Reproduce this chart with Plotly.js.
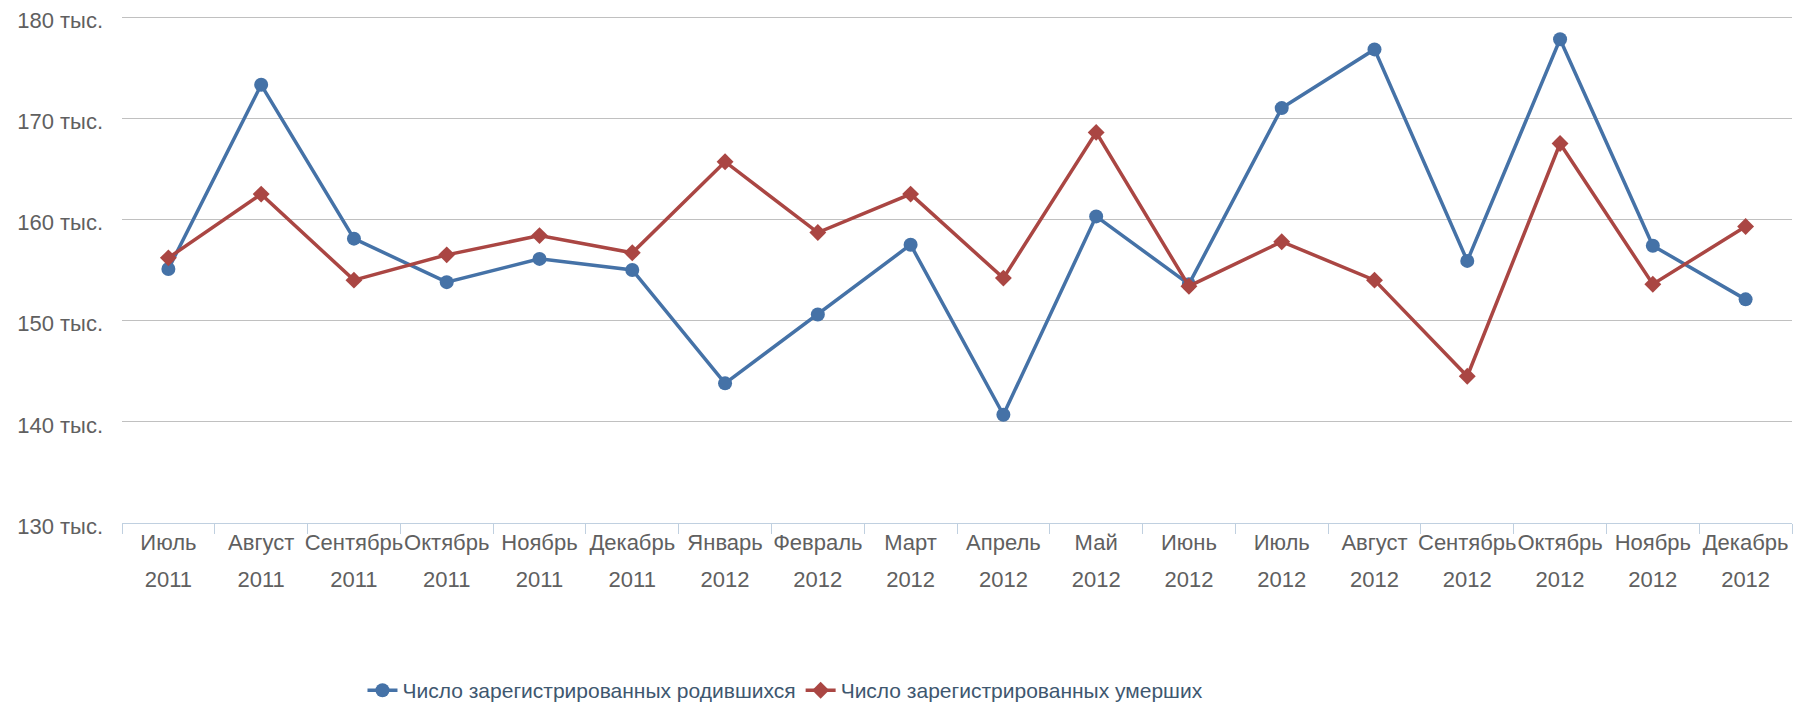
<!DOCTYPE html>
<html>
<head>
<meta charset="utf-8">
<script src="https://cdn.plot.ly/plotly-3.0.1.min.js"></script>
<style>
  html, body { margin: 0; padding: 0; background: #ffffff; }
  #chart { width: 1812px; height: 709px; }
</style>
</head>
<body>
<div id="chart"></div>
<script>
// Categories (months) and years
const months = ["Июль", "Август", "Сентябрь", "Октябрь", "Ноябрь", "Декабрь",
                "Январь", "Февраль", "Март", "Апрель", "Май", "Июнь",
                "Июль", "Август", "Сентябрь", "Октябрь", "Ноябрь", "Декабрь"];
const years = ["2011", "2011", "2011", "2011", "2011", "2011",
               "2012", "2012", "2012", "2012", "2012", "2012",
               "2012", "2012", "2012", "2012", "2012", "2012"];

// Series values, thousands of people
const births = [155.1, 173.3, 158.1, 153.8, 156.1, 155.0,
                143.8, 150.6, 157.5, 140.7, 160.3, 153.6,
                171.0, 176.8, 155.9, 177.8, 157.4, 152.1];
const deaths = [156.2, 162.5, 154.0, 156.5, 158.4, 156.7,
                165.7, 158.7, 162.5, 154.2, 168.6, 153.4,
                157.8, 154.0, 144.5, 167.5, 153.6, 159.3];

// Y axis ticks
const yTickVals = [130, 140, 150, 160, 170, 180];
const yTickText = ["130 тыс.", "140 тыс.", "150 тыс.", "160 тыс.", "170 тыс.", "180 тыс."];

const seriesNames = ["Число зарегистрированных родившихся", "Число зарегистрированных умерших"];

const cats = months.map((m, i) => m + " " + years[i]);
const idx = months.map((m, i) => i);

const FONT = "'Liberation Sans', Arial, sans-serif";
const AXIS_SIZE = 22;

const traces = [
  {
    type: "scatter", mode: "lines+markers",
    name: seriesNames[0],
    x: cats, y: births,
    line: { color: "#4572A7", width: 3.5 },
    marker: { symbol: "circle", size: 14, color: "#4572A7" },
    hoverinfo: "skip"
  },
  {
    type: "scatter", mode: "lines+markers",
    name: seriesNames[1],
    x: cats, y: deaths,
    line: { color: "#AA4643", width: 3.5 },
    marker: { symbol: "diamond", size: 13, color: "#AA4643" },
    hoverinfo: "skip"
  },
  // invisible helper so the year-label axis is drawn
  {
    type: "scatter", mode: "lines",
    x: idx, y: births, xaxis: "x2", yaxis: "y",
    line: { width: 0, color: "rgba(0,0,0,0)" },
    opacity: 0, showlegend: false, hoverinfo: "skip"
  }
];

const layout = {
  width: 1812, height: 709,
  margin: { l: 122, r: 20, t: 15, b: 186, pad: 0, autoexpand: false },
  paper_bgcolor: "#ffffff", plot_bgcolor: "#ffffff",
  font: { family: FONT, size: AXIS_SIZE, color: "#606060" },
  showlegend: true,
  legend: {
    orientation: "h",
    x: 0.144, xanchor: "left",
    y: -0.33, yanchor: "middle",
    font: { family: FONT, size: 21, color: "#3E576F" },
    itemwidth: 30,
    bgcolor: "rgba(0,0,0,0)"
  },
  xaxis: {
    type: "category",
    categoryorder: "array", categoryarray: cats,
    range: [-0.5, months.length - 0.5],
    tickvals: cats, ticktext: months,
    tickangle: 0,
    showgrid: false, zeroline: false,
    showline: true, linecolor: "#C0D0E0", linewidth: 1,
    ticks: "outside", tickson: "boundaries", ticklen: 10, tickcolor: "#C0D0E0",
    tickfont: { family: FONT, size: AXIS_SIZE, color: "#606060" },
    ticklabelstandoff: 0,
    automargin: false,
    fixedrange: true
  },
  xaxis2: {
    type: "linear",
    overlaying: "x", anchor: "y", side: "bottom",
    range: [-0.5, months.length - 0.5],
    tickmode: "array", tickvals: idx, ticktext: years,
    tickangle: 0,
    showgrid: false, zeroline: false, showline: false, ticks: "",
    tickfont: { family: FONT, size: AXIS_SIZE, color: "#606060" },
    ticklabelstandoff: 41,
    automargin: false,
    fixedrange: true
  },
  yaxis: {
    range: [130, 180.2],
    tickmode: "array", tickvals: yTickVals, ticktext: yTickText,
    showgrid: true, gridcolor: "#C0C0C0", gridwidth: 1,
    zeroline: false, showline: false, ticks: "",
    tickfont: { family: FONT, size: AXIS_SIZE, color: "#606060" },
    ticklabelstandoff: 18,
    ticklabelshift: 3,
    automargin: false,
    fixedrange: true
  }
};

Plotly.newPlot("chart", traces, layout, { displayModeBar: false, staticPlot: true });
</script>
</body>
</html>
